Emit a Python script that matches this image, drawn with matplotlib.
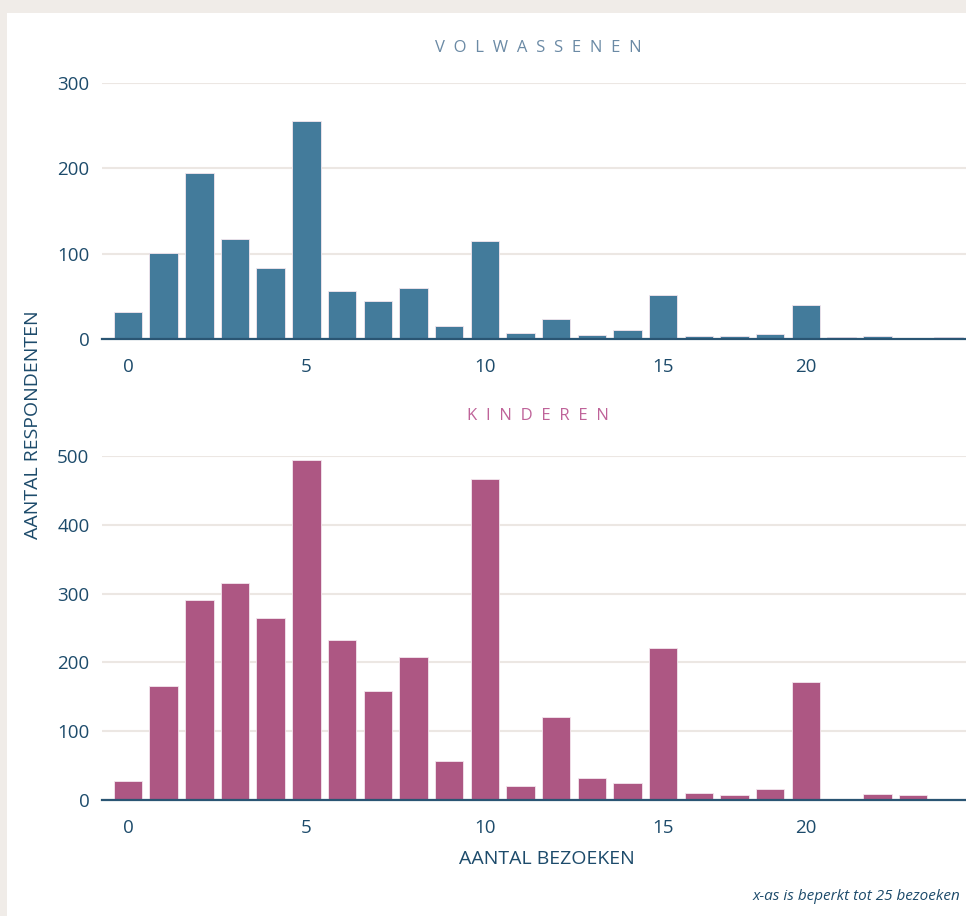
import matplotlib.pyplot as plt
from matplotlib.patches import Rectangle

# Aantal bezoeken (19 ontbreekt in de categorieen)
visits = [0, 1, 2, 3, 4, 5, 6, 7, 8, 9, 10, 11, 12, 13, 14, 15, 16, 17, 18, 20, 21, 22, 23, 24]
adults = [32, 101, 195, 117, 83, 255, 56, 45, 60, 15, 115, 7, 23, 5, 10, 52, 3, 3, 6, 40, 2, 4, 0, 2]
children = [28, 166, 291, 315, 264, 494, 233, 158, 208, 57, 467, 20, 121, 32, 25, 221, 10, 7, 16, 172, 1, 8, 7, 2]
tick_visits = [0, 5, 10, 15, 20]

adult_ticks = [0, 100, 200, 300]
child_ticks = [0, 100, 200, 300, 400, 500]

plt.rcParams['font.family'] = ['Open Sans', 'DejaVu Sans']

navy = '#1d4b6b'
grid_col = '#ece7e3'

fig = plt.figure(figsize=(9.66, 9.16), dpi=100, facecolor='#f0ece8')
fig.patches.append(Rectangle((7 / 966, 0), 1, 1 - 13 / 916, transform=fig.transFigure,
                             facecolor='white', edgecolor='none', zorder=-1))

pos = list(range(len(visits)))
tick_pos = [visits.index(v) for v in tick_visits]


def draw_panel(ax, values, color, yticks, title, title_color, title_pad):
    ax.set_facecolor('none')
    ax.bar(pos, values, width=0.8, color=color, edgecolor='#f4e6ee', linewidth=0.6, zorder=3)
    ax.set_xlim(-0.73, 23.6)
    ax.set_ylim(0, yticks[-1])
    ax.set_yticks(yticks)
    ax.set_xticks(tick_pos)
    ax.set_xticklabels([str(v) for v in tick_visits])
    ax.tick_params(axis='both', length=0, labelsize=13.5, colors=navy)
    ax.tick_params(axis='x', pad=14)
    ax.tick_params(axis='y', pad=9)
    ax.grid(axis='y', color=grid_col, linewidth=1.5, zorder=0)
    for s in ['top', 'right', 'left']:
        ax.spines[s].set_visible(False)
    ax.spines['bottom'].set_color('#2a5573')
    ax.spines['bottom'].set_linewidth(1.6)
    ax.spines['bottom'].set_zorder(4)
    # letterspaced title
    ax.set_title('  '.join(title), fontsize=12, color=title_color, pad=title_pad,
                 x=(538 - 102) / 868)


ax1 = fig.add_axes([102 / 966, (916 - 339) / 916, 868 / 966, 256 / 916])
draw_panel(ax1, adults, '#437b9b', adult_ticks, 'VOLWASSENEN', '#6b8aa5', 22)

ax2 = fig.add_axes([102 / 966, (916 - 800) / 916, 868 / 966, 344 / 916])
draw_panel(ax2, children, '#ad5783', child_ticks, 'KINDEREN', '#bf6399', 26)
ax2.set_xlabel('AANTAL BEZOEKEN', fontsize=14, color=navy)
ax2.xaxis.set_label_coords((547 - 102) / 868, -0.145)

fig.text(33 / 966, 1 - 425 / 916, 'AANTAL RESPONDENTEN', rotation=90, fontsize=14,
         color=navy, ha='center', va='center')
fig.text(960 / 966, 1 - 896 / 916, 'x-as is beperkt tot 25 bezoeken', fontsize=11,
         style='italic', color=navy, ha='right', va='center')

fig.savefig('out.png', dpi=100, facecolor=fig.get_facecolor())
